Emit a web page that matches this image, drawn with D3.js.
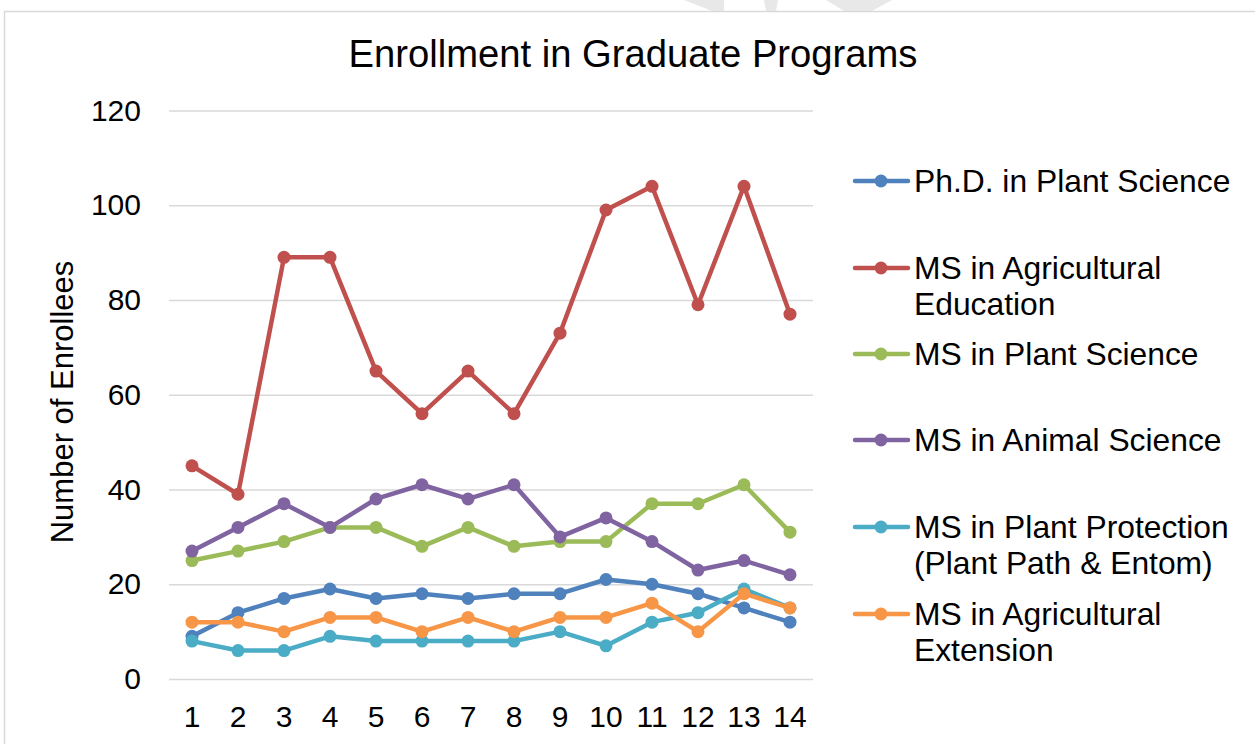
<!DOCTYPE html>
<html>
<head>
<meta charset="utf-8">
<script src="https://cdn.jsdelivr.net/npm/d3@7"></script>
<style>
  html, body { margin: 0; padding: 0; background: #fff; }
  svg { display: block; font-family: "Liberation Sans", Arial, sans-serif; }
</style>
</head>
<body>
<svg id="chart" width="1255" height="744"></svg>
<script>
const categories = ["1","2","3","4","5","6","7","8","9","10","11","12","13","14"];
const seriesNames = [
  ["Ph.D. in Plant Science"],
  ["MS in Agricultural", "Education"],
  ["MS in Plant Science"],
  ["MS in Animal Science"],
  ["MS in Plant Protection", "(Plant Path & Entom)"],
  ["MS in Agricultural", "Extension"]
];
const phdPlantScience   = [9, 14, 17, 19, 17, 18, 17, 18, 18, 21, 20, 18, 15, 12];
const msAgEducation     = [45, 39, 89, 89, 65, 56, 65, 56, 73, 99, 104, 79, 104, 77];
const msPlantScience    = [25, 27, 29, 32, 32, 28, 32, 28, 29, 29, 37, 37, 41, 31];
const msAnimalScience   = [27, 32, 37, 32, 38, 41, 38, 41, 30, 34, 29, 23, 25, 22];
const msPlantProtection = [8, 6, 6, 9, 8, 8, 8, 8, 10, 7, 12, 14, 19, 15];
const msAgExtension     = [12, 12, 10, 13, 13, 10, 13, 10, 13, 13, 16, 10, 18, 15];
const yTicks = [0, 20, 40, 60, 80, 100, 120];
const colors = ["#4F81BD", "#C0504D", "#9BBB59", "#8064A2", "#4BACC6", "#F79646"];

const allSeries = [phdPlantScience, msAgEducation, msPlantScience, msAnimalScience, msPlantProtection, msAgExtension];

const svg = d3.select("#chart");

// watermark fragments at top
const wm = svg.append("g").attr("fill", "#E8E8E8");
wm.append("polygon").attr("points", "684,0 724,0 724,11 712,11");
wm.append("polygon").attr("points", "764,0 778,0 776,11 766,11");
wm.append("polygon").attr("points", "826,0 892,0 872,11 844,11");

// chart border
svg.append("rect")
  .attr("x", 4.5).attr("y", 11.5).attr("width", 1300).attr("height", 800)
  .attr("fill", "none").attr("stroke", "#D9D9D9").attr("stroke-width", 1.5);

const plot = { left: 169, right: 813, top: 110.5, bottom: 679 };

const x = d3.scaleBand().domain(categories).range([plot.left, plot.right]);
const y = d3.scaleLinear().domain([0, 120]).range([plot.bottom, plot.top]);

// gridlines
svg.append("g")
  .attr("transform", `translate(${plot.left},0)`)
  .call(d3.axisLeft(y).tickValues(yTicks).tickSize(-(plot.right - plot.left)).tickFormat(""))
  .call(g => g.select(".domain").remove())
  .call(g => g.selectAll("line").attr("stroke", "#D9D9D9").attr("stroke-width", 1.5));

// y tick labels
svg.append("g")
  .attr("transform", `translate(141,0)`)
  .call(d3.axisLeft(y).tickValues(yTicks).tickSize(0).tickPadding(0))
  .call(g => g.select(".domain").remove())
  .call(g => g.selectAll("text").attr("font-size", 30).attr("fill", "#000")
    .attr("font-family", "'Liberation Sans', Arial, sans-serif"));

// x tick labels
svg.append("g")
  .attr("transform", `translate(0,${plot.bottom})`)
  .call(d3.axisBottom(x).tickSize(0).tickPadding(27))
  .call(g => g.select(".domain").remove())
  .call(g => g.selectAll("text").attr("font-size", 30).attr("fill", "#000")
    .attr("font-family", "'Liberation Sans', Arial, sans-serif"));

// title
svg.append("text")
  .attr("x", 633).attr("y", 67)
  .attr("text-anchor", "middle")
  .attr("font-size", 38.2).attr("fill", "#000")
  .text("Enrollment in Graduate Programs");

// y axis label
svg.append("text")
  .attr("transform", "translate(73,402) rotate(-90)")
  .attr("text-anchor", "middle")
  .attr("font-size", 31).attr("fill", "#000")
  .text("Number of Enrollees");

// lines
const line = d3.line()
  .x((d, i) => x(categories[i]) + x.bandwidth() / 2)
  .y(d => y(d));

allSeries.forEach((s, k) => {
  const g = svg.append("g");
  g.append("path").datum(s)
    .attr("d", line)
    .attr("fill", "none")
    .attr("stroke", colors[k])
    .attr("stroke-width", 4.5)
    .attr("stroke-linejoin", "round")
    .attr("stroke-linecap", "round");
  g.selectAll("circle").data(s).enter().append("circle")
    .attr("cx", (d, i) => x(categories[i]) + x.bandwidth() / 2)
    .attr("cy", d => y(d))
    .attr("r", 6.5)
    .attr("fill", colors[k]);
});

// legend
const legendY = [181, 268, 354, 440, 527, 614];
const legend = svg.append("g");
seriesNames.forEach((lines, k) => {
  const g = legend.append("g").attr("transform", `translate(0,${legendY[k]})`);
  g.append("line").attr("x1", 855).attr("x2", 908).attr("y1", 0).attr("y2", 0)
    .attr("stroke", colors[k]).attr("stroke-width", 4.5).attr("stroke-linecap", "round");
  g.append("circle").attr("cx", 881).attr("cy", 0).attr("r", 6.5).attr("fill", colors[k]);
  lines.forEach((t, j) => {
    g.append("text")
      .attr("x", 914).attr("y", 11 + j * 36)
      .attr("font-size", 31.8).attr("fill", "#000")
      .text(t);
  });
});
</script>
</body>
</html>
